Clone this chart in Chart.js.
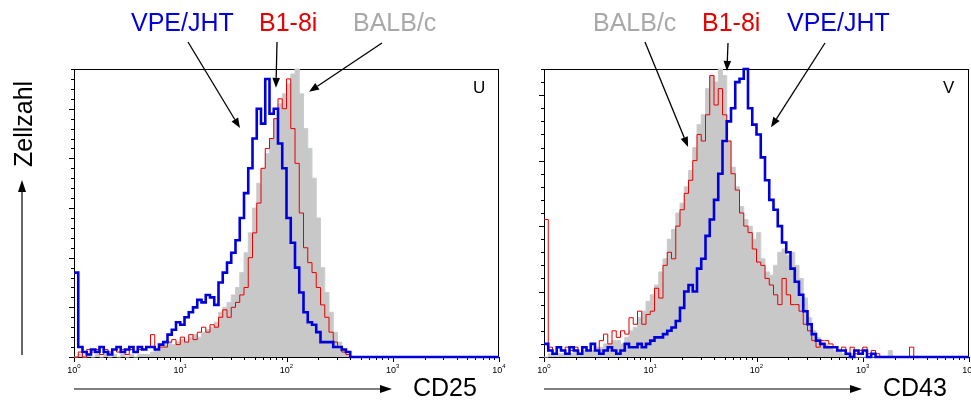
<!DOCTYPE html>
<html>
<head>
<meta charset="utf-8">
<script src="https://cdn.jsdelivr.net/npm/chart.js@4.4.1/dist/chart.umd.min.js"></script>
<style>
  html, body { margin: 0; padding: 0; background: #fff; }
  #wrap { position: relative; width: 971px; height: 401px; overflow: hidden; }
  canvas { position: absolute; left: 0; top: 0; }
</style>
</head>
<body>
<div id="wrap">
  <canvas id="cd25" width="971" height="401"></canvas>
  <canvas id="cd43" width="971" height="401"></canvas>
</div>
<script>
// channel bins are 0.04 decades wide, starting at 10^0
const binStep = 0.04;
const decades = [0, 1, 2, 3, 4];

// CD25 panel (U), cell counts per channel bin
const cd25Vpe = [17,2,1,0.5,1.5,1,2,1,0.5,1.5,
  2,1,1.5,2,1,2,1.5,2,2,1.5,
  2.5,3,4.5,5.5,7,6.5,8,9,10,11.5,
  11,12.5,12,10.5,15,17,19,21,23.5,28,
  33,38,44,50,47,56,49,50,43,38,
  28,23,18,13,9,7,6.5,5,3,3,
  3,2,2,1.5,1,0,0,0,0,0,
  0,0,0,0,0,0,0,0,0,0,
  0,0,0,0,0,0,0,0,0,0,
  0,0,0,0,0,0,0,0,0,0];
const cd25B18i = [0,1,0,1.5,1,1.5,0.5,1.5,1,1.5,
  1,1.5,0.5,1.5,1,1.5,1.5,2,4.5,1.5,
  2,2,3,3.5,2.5,4,3,4.5,3.5,5,
  6,5,6.5,6,8,9.5,8,10,11,12.5,
  14,20,25,31,38,42,44,48,52,50,
  56,46,39,29,22,19,17,14,10.5,8,
  5,3,2,1,0.5,0,0,0,0,0,
  0,0,0,0,0,0,0,0,0,0,
  0,0,0,0,0,0,0,0,0,0,
  0,0,0,0,0,0,0,0,0,0];
const cd25Balb = [0,0.5,0,0.5,0,0.5,0,0.5,0,0.5,
  0,0.5,0,0.5,0,0.5,0.5,0.5,1,1.5,
  2,2.5,3,2.5,3,3.5,3,4,4.5,4,
  5,5.5,6,7,9,10,11,12.5,14,17,
  21,25,30,35,38,41,44,48,51,53,
  55,57,58,53,46,42,36,28,18,13,
  9,5,3,1.5,0.5,0,0,0,0,0,
  0,0,0,0,0,0,0,0,0,0,
  0,0,0,0,0,0,0,0,0,0,
  0,0,0,0,0,0,0,0,0,0];

// CD43 panel (V)
const cd43Vpe = [2,1,0.5,1.5,1,0.5,1.5,1,0.5,1.5,
  1,2,1,0.5,1,1.5,1,0.5,1,2,
  1.5,1.5,2,1.5,2,2.5,3,3,3.5,4,
  4.5,5.5,7.5,10,11,10,13.5,15,18.5,21,
  24,28,33,36,38,42,42.5,44,38,35.5,
  34,30.5,27,24,22.5,20,17.5,16,13.5,11.5,
  9.5,7,5,3.5,2.5,2,1.5,1.5,1.5,1,
  1,0.5,0,1,0.5,1,0,0.5,0,0,
  0,0,0,0,0,0,0,0,0,0,
  0,0,0,0,0,0,0,0,0,0];
const cd43B18i = [21,1.5,0.5,1.5,1,1.5,1,1.5,0.5,1.5,
  1,2,1,2.5,3.5,2,4,3,4,3.5,
  6,5,7,5,6.5,7,10.5,9,14,16,
  15,20,22.5,25,27,30,34,33,37,43,
  38.5,41,37,33,28,25.5,22,20,19,16.5,
  14.5,14,12,11,9.5,8,12,9.5,8,8,
  7,5,4,2.5,1.5,2.5,2.5,2,1.5,1,
  1.5,0.5,1.5,0.5,1,1.5,0.5,1,0.5,0,
  0,0,0,0,0,0,1.5,0,0,0,
  0,0,0,0,0,0,0,0,0,0];
const cd43Balb = [0,0.5,0.5,0.5,0.5,0.5,0.5,1,0.5,1,
  1,1,1.5,1.5,2,2,2.5,2.5,2,3,
  4,4.5,6,7,8.5,9.5,11,13,15,18,
  19.5,22,23.5,26,28.5,32,35.5,37,41,43,
  42,44,43,33,29,26,23,21,20,18,
  19,15,13,12.5,14,16,16.5,15.5,16,14,
  12,9,6,4,3,2,2,1.5,1,1,
  0.5,0.5,0.5,0,0,0,0,0,0,0,
  0,1,0,0,0,0,0,0,0,0,
  0,0,0,0,0,0,0,0,0,0];

const BLUE = '#0000dc', RED = '#e60000', GREY = '#c8c8c8', GREY_TXT = '#a8a8a8';
const FONT = "'Liberation Sans', Arial, Helvetica, sans-serif";

function toPoints(counts) {
  const pts = counts.map((c, i) => ({ x: Math.pow(10, i * binStep), y: c }));
  pts.push({ x: 1e4, y: counts[counts.length - 1] });
  return pts;
}

function arrow(ctx, x0, y0, x1, y1, len, half) {
  const a = Math.atan2(y1 - y0, x1 - x0), c = Math.cos(a), s = Math.sin(a);
  const bx = x1 - len * c, by = y1 - len * s;
  ctx.beginPath(); ctx.moveTo(x0, y0); ctx.lineTo(bx, by); ctx.stroke();
  ctx.beginPath();
  ctx.moveTo(x1, y1);
  ctx.lineTo(bx - half * s, by + half * c);
  ctx.lineTo(bx + half * s, by - half * c);
  ctx.closePath(); ctx.fill();
}

const frameTicks = {
  id: 'frameTicks',
  beforeDatasetsDraw(chart, args, opts) {
    const { ctx, chartArea: a, scales: { x, y } } = chart;
    ctx.save();
    ctx.strokeStyle = '#000'; ctx.lineWidth = 1;
    ctx.strokeRect(a.left + 0.5, a.top + 0.5, a.right - a.left - 1, a.bottom - a.top);
    ctx.beginPath();
    for (let v = 0; v <= opts.yMax; v += 2) {
      const py = Math.round(y.getPixelForValue(v)) + 0.5;
      ctx.moveTo(a.left, py); ctx.lineTo(a.left - (v % 10 === 0 ? 5 : 3), py);
    }
    decades.forEach(k => {
      for (let m = 1; m <= 9; m++) {
        if (k === 4 && m > 1) break;
        const px = Math.round(x.getPixelForValue(m * Math.pow(10, k))) + 0.5;
        ctx.moveTo(px, a.bottom); ctx.lineTo(px, a.bottom + (m === 1 ? 5 : 3));
      }
    });
    ctx.stroke();
    ctx.restore();
  },
  afterDraw(chart, args, opts) {
    const { ctx, chartArea: a, scales: { x, y } } = chart;
    ctx.save();
    // decade labels 10^k
    ctx.fillStyle = '#000'; ctx.textBaseline = 'alphabetic'; ctx.textAlign = 'left';
    decades.forEach(k => {
      const px = x.getPixelForValue(Math.pow(10, k));
      ctx.font = '9px ' + FONT; const w1 = ctx.measureText('10').width;
      ctx.font = '6px ' + FONT; const w2 = ctx.measureText(String(k)).width;
      const x0 = px - (w1 + w2) / 2;
      ctx.font = '9px ' + FONT; ctx.fillText('10', x0, 373);
      ctx.font = '6px ' + FONT; ctx.fillText(String(k), x0 + w1, 368);
    });
    // strain labels and arrows
    ctx.font = '25px ' + FONT;
    opts.labels.forEach(l => { ctx.fillStyle = l.color; ctx.fillText(l.text, l.x, 31); });
    ctx.strokeStyle = '#000'; ctx.fillStyle = '#000'; ctx.lineWidth = 1.3;
    opts.arrows.forEach(r => {
      arrow(ctx, r.from[0], r.from[1], x.getPixelForValue(r.at[0]), y.getPixelForValue(r.at[1]), 10, 3.8);
    });
    // panel letter
    ctx.font = '17px ' + FONT; ctx.fillText(opts.letter, a.right - 26, 93);
    // axis title with arrow
    ctx.lineWidth = 1.2;
    arrow(ctx, a.left, 389, opts.titleX - 21, 389, 12, 4);
    ctx.font = '25px ' + FONT; ctx.fillText(opts.title, opts.titleX, 396);
    if (opts.yTitle) {
      arrow(ctx, 22, 355, 22, 180, 12, 4);
      ctx.translate(32, 167); ctx.rotate(-Math.PI / 2);
      ctx.fillText(opts.yTitle, 0, 0);
    }
    ctx.restore();
  }
};

function makePanel(id, pad, yMax, series, deco) {
  return new Chart(document.getElementById(id), {
    type: 'line',
    data: {
      datasets: [
        { label: 'VPE/JHT', data: toPoints(series[0]), borderColor: BLUE, borderWidth: 2.6, fill: false },
        { label: 'B1-8i', data: toPoints(series[1]), borderColor: RED, borderWidth: 1, fill: false },
        { label: 'BALB/c', data: toPoints(series[2]), borderColor: '#cccccc', borderWidth: 1,
          backgroundColor: GREY, fill: 'origin' }
      ]
    },
    options: {
      responsive: false,
      animation: false,
      layout: { padding: pad },
      elements: { point: { radius: 0 }, line: { stepped: true, tension: 0, borderJoinStyle: 'miter' } },
      datasets: { line: { clip: 3 } },
      scales: {
        x: { type: 'logarithmic', min: 1, max: 10000, display: false },
        y: { type: 'linear', min: 0, max: yMax, display: false }
      },
      plugins: {
        legend: { display: false },
        tooltip: { enabled: false },
        frameTicks: Object.assign({ yMax: yMax }, deco)
      }
    },
    plugins: [frameTicks]
  });
}

makePanel('cd25', { left: 74, top: 69, right: 472, bottom: 44 }, 58,
  [cd25Vpe, cd25B18i, cd25Balb], {
    labels: [
      { text: 'VPE/JHT', color: BLUE, x: 131 },
      { text: 'B1-8i', color: RED, x: 259 },
      { text: 'BALB/c', color: GREY_TXT, x: 353 }
    ],
    arrows: [
      { from: [188, 42], at: [36.5, 46.1] },
      { from: [277, 42], at: [79.6, 54.2] },
      { from: [382, 43], at: [163, 53.4] }
    ],
    letter: 'U', title: 'CD25', titleX: 413, yTitle: 'Zellzahl'
  });

makePanel('cd43', { left: 544, top: 69, right: 2, bottom: 44 }, 44,
  [cd43Vpe, cd43B18i, cd43Balb], {
    labels: [
      { text: 'BALB/c', color: GREY_TXT, x: 593 },
      { text: 'B1-8i', color: RED, x: 702 },
      { text: 'VPE/JHT', color: BLUE, x: 787 }
    ],
    arrows: [
      { from: [645, 42], at: [22.7, 32.1] },
      { from: [728, 43], at: [52.7, 43.7] },
      { from: [825, 43], at: [137, 35.1] }
    ],
    letter: 'V', title: 'CD43', titleX: 883
  });
</script>
</body>
</html>
